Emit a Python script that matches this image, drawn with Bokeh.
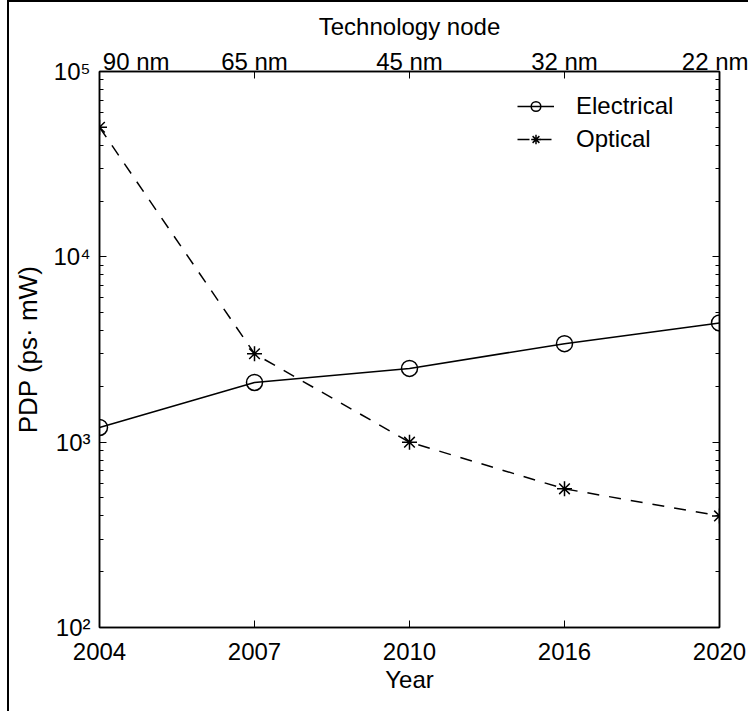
from bokeh.plotting import figure
from bokeh.models import (Range1d, FixedTicker, LinearAxis, LogAxis, Legend, LegendItem,
                          CustomJSTickFormatter)
from bokeh.embed import file_html
from bokeh.resources import INLINE

# ---- data ----
years = ["2004", "2007", "2010", "2016", "2020"]
nodes = ["90 nm", "65 nm", "45 nm", "32 nm", "22 nm"]
electrical = [1200, 2100, 2500, 3400, 4400]
optical = [50000, 3000, 1000, 560, 400]
y_ticks = [1e2, 1e3, 1e4, 1e5]

xs = list(range(len(years)))
FONT = "Liberation Sans"
FS = "24px"
NBSP = "\u00a0"

minor = [m * t for t in y_ticks[:-1] for m in range(2, 10)]

p = figure(width=741, height=711, output_backend="svg", toolbar_location=None,
           y_axis_type="log",
           x_range=Range1d(xs[0], xs[-1]), y_range=Range1d(y_ticks[0], y_ticks[-1]),
           min_border_left=90, min_border_right=31, min_border_top=69, min_border_bottom=86,
           x_axis_label="Year", y_axis_label="PDP (ps\u00b7 mW)")
p.styles = {"border-left": "2px solid black", "border-top": "2px solid black",
            "margin-left": "7px"}
p.grid.visible = False
p.background_fill_color = "white"
p.border_fill_color = "white"
p.outline_line_color = "black"
p.outline_line_width = 1.5


def style_axis(ax):
    ax.axis_line_color = "black"
    ax.axis_line_width = 1.5
    ax.major_tick_in = 7
    ax.major_tick_out = 0
    ax.minor_tick_in = 4
    ax.minor_tick_out = 0
    ax.major_tick_line_color = "black"
    ax.minor_tick_line_color = "black"
    ax.major_tick_line_width = 1
    ax.minor_tick_line_width = 1
    ax.major_label_text_font = FONT
    ax.major_label_text_font_size = FS
    ax.major_label_text_color = "black"
    ax.axis_label_text_font = FONT
    ax.axis_label_text_font_size = FS
    ax.axis_label_text_font_style = "normal"
    ax.axis_label_text_color = "black"


# bottom axis
xa = p.xaxis[0]
xa.ticker = FixedTicker(ticks=xs)
xa.major_label_overrides = {i: y for i, y in zip(xs, years)}
style_axis(xa)
xa.minor_tick_line_color = None
xa.major_label_standoff = 15
xa.axis_label_standoff = 3

# left axis
ya = p.yaxis[0]
ya.ticker = FixedTicker(ticks=y_ticks, minor_ticks=minor)
ya.formatter = CustomJSTickFormatter(code="""
const s = {"0":"\u2070","1":"\u00b9","2":"\u00b2","3":"\u00b3","4":"\u2074","5":"\u2075","6":"\u2076","7":"\u2077","8":"\u2078","9":"\u2079","-":"\u207b"};
const e = Math.round(Math.log10(tick));
return "10" + String(e).split("").map(c => s[c]).join("");
""")
style_axis(ya)
ya.axis_label_text_font_size = "26px"
ya.major_label_standoff = 9
ya.axis_label_standoff = 7

# right axis (ticks only)
ra = LogAxis(ticker=FixedTicker(ticks=y_ticks, minor_ticks=minor))
style_axis(ra)
ra.major_label_text_font_size = "1px"
ra.major_label_text_alpha = 0
ra.major_label_standoff = 0
p.add_layout(ra, "right")

# top axis: technology node
ta = LinearAxis(ticker=FixedTicker(ticks=xs), axis_label="Technology node")
style_axis(ta)
ta.minor_tick_line_color = None
# first label is nudged right (padded with no-break spaces) so it clears the 10^5 label
ta.major_label_overrides = {i: (NBSP * 11 + n if i == xs[0] else n) for i, n in zip(xs, nodes)}
ta.major_label_standoff = -3
ta.axis_label_standoff = 5
p.add_layout(ta, "above")

# data
r_e_line = p.line(xs, electrical, line_color="black", line_width=1.5)
r_e_pts = p.scatter(xs, electrical, marker="circle", size=16, fill_color=None,
                    line_color="black", line_width=1.5)
r_o_line = p.line(xs, optical, line_color="black", line_width=1.5, line_dash="12 10")
r_o_pts = p.scatter(xs, optical, marker="asterisk", size=15, line_color="black",
                    line_width=1.5)

legend = Legend(items=[LegendItem(label="Electrical", renderers=[r_e_line, r_e_pts]),
                       LegendItem(label="Optical", renderers=[r_o_line, r_o_pts])],
                location=(418, 474), padding=0, margin=0, spacing=5,
                glyph_width=37, glyph_height=24, label_standoff=22,
                label_text_font=FONT, label_text_font_size=FS, label_text_color="black",
                background_fill_alpha=0, border_line_color=None)
p.add_layout(legend)

open("out.html", "w").write(file_html(p, INLINE))
